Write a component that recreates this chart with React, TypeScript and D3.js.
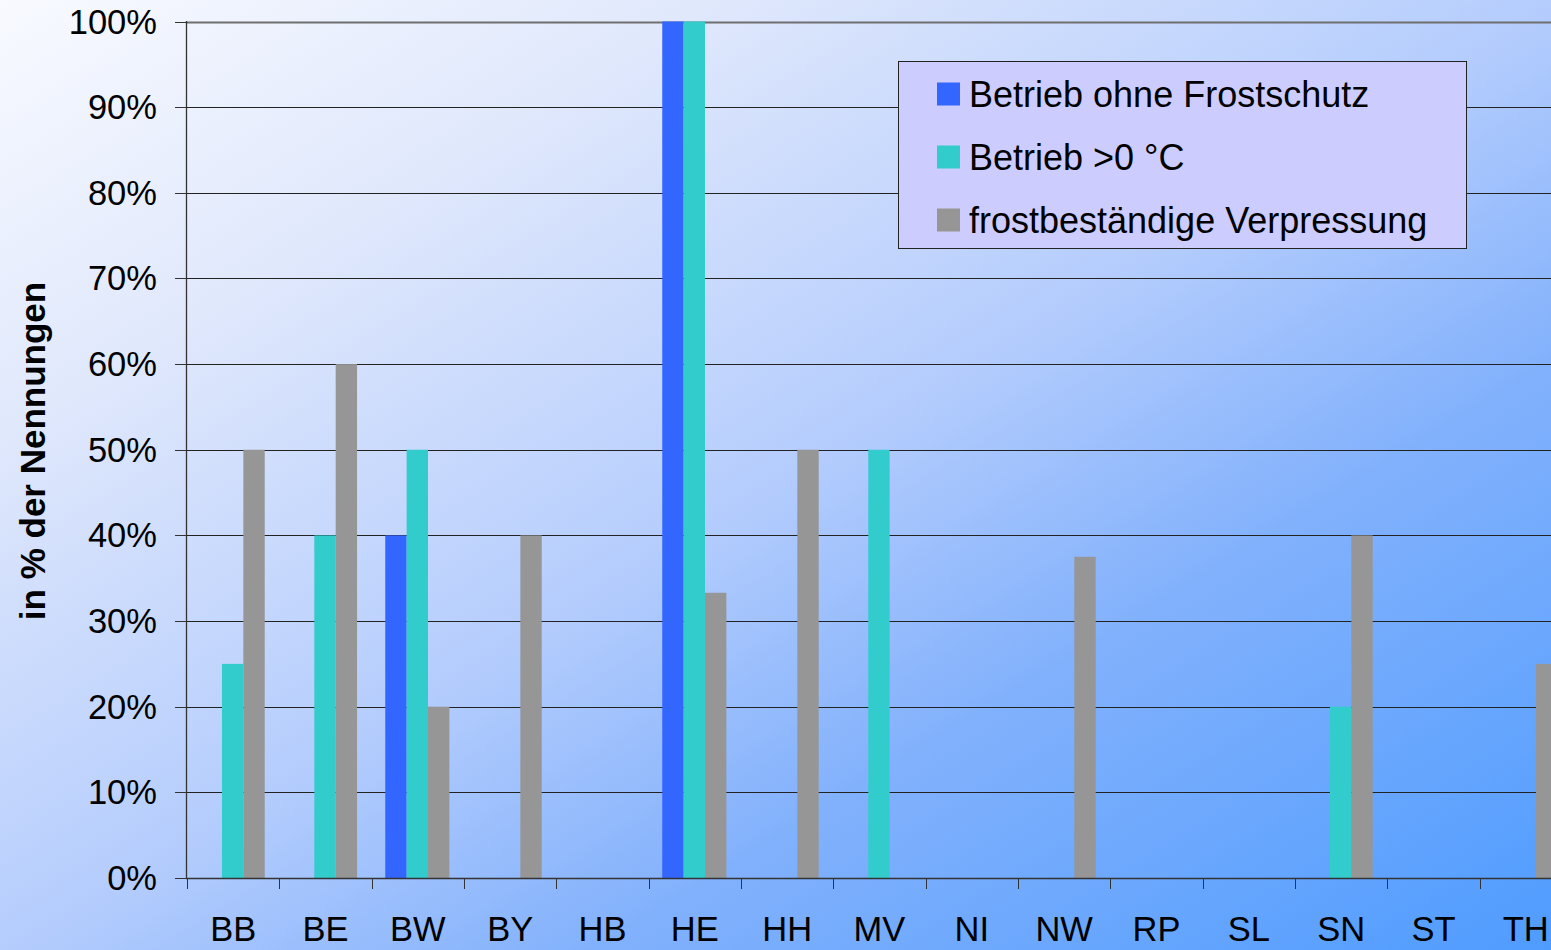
import React from "react";
import * as d3 from "d3";

const categories = ["BB", "BE", "BW", "BY", "HB", "HE", "HH", "MV", "NI", "NW", "RP", "SL", "SN", "ST", "TH"];
const seriesNames = ["Betrieb ohne Frostschutz", "Betrieb >0 °C", "frostbeständige Verpressung"];
const ohneFrostschutz = [0, 0, 0.4, 0, 0, 1, 0, 0, 0, 0, 0, 0, 0, 0, 0];
const betriebUeber0 = [0.25, 0.4, 0.5, 0, 0, 1, 0, 0.5, 0, 0, 0, 0, 0.2, 0, 0];
const verpressung = [0.5, 0.6, 0.2, 0.4, 0, 0.333, 0.5, 0, 0, 0.375, 0, 0, 0.4, 0, 0.25];
const yTicks = [0, 0.1, 0.2, 0.3, 0.4, 0.5, 0.6, 0.7, 0.8, 0.9, 1];
const colors = ["#3366ff", "#33cccc", "#969696"];

export default function App() {
  const W = 1551, H = 950;
  const series = [ohneFrostschutz, betriebUeber0, verpressung];
  const bandW = 92.33;
  const x0 = 187;
  const x = d3.scaleBand<string>().domain(categories).range([x0, x0 + bandW * categories.length]).padding(0);
  const inner = d3.scaleBand<number>().domain([0, 1, 2]).range([13.6, bandW - 14.6]).padding(0);
  const y = d3.scaleLinear().domain([0, 1]).range([878, 21.5]);
  const font = "'Liberation Sans', Arial, sans-serif";

  return (
    <svg width={W} height={H} style={{ position: "absolute", left: 0, top: 0, display: "block" }} fontFamily={font}>
      <defs>
        <linearGradient id="bg" x1="0" y1="0" x2="1" y2="1">
          <stop offset="0" stopColor="#f8faff" />
          <stop offset="0.23" stopColor="#e0e8fc" />
          <stop offset="0.5" stopColor="#b5cdfd" />
          <stop offset="0.69" stopColor="#82b1fc" />
          <stop offset="1" stopColor="#4f9cff" />
        </linearGradient>
      </defs>
      <rect x={0} y={0} width={W} height={H} fill="url(#bg)" />
      {yTicks.slice(1).map((t) => (
        <line key={t} x1={x0} x2={W} y1={Math.round(y(t)) + 0.5} y2={Math.round(y(t)) + 0.5}
          stroke={t === 1 ? "#6f6f6f" : "#222"} strokeWidth={t === 1 ? 2 : 1} />
      ))}
      {series.map((vals, si) =>
        vals.map((v, ci) =>
          v > 0 ? (
            <rect key={`${si}-${ci}`} x={(x(categories[ci]) as number) + (inner(si) as number)} y={y(v)}
              width={inner.bandwidth()} height={y(0) - y(v)} fill={colors[si]} />
          ) : null
        )
      )}
      <line x1={186.5} x2={186.5} y1={21} y2={879} stroke="#333" strokeWidth={1.3} />
      {yTicks.map((t) => (
        <g key={t}>
          <line x1={175} x2={187} y1={Math.round(y(t)) + 0.5} y2={Math.round(y(t)) + 0.5} stroke="#333" strokeWidth={1} />
          <text x={157} y={y(t) + 12} fontSize={34.5} textAnchor="end" fill="#000">{`${Math.round(t * 100)}%`}</text>
        </g>
      ))}
      <line x1={186} x2={W} y1={878.5} y2={878.5} stroke="#333" strokeWidth={1.3} />
      {categories.map((c) => (
        <g key={c}>
          <line x1={Math.round(x(c) as number) + 0.5} x2={Math.round(x(c) as number) + 0.5} y1={878} y2={889} stroke="#333" />
          <text x={(x(c) as number) + bandW / 2} y={941} fontSize={34.5} textAnchor="middle" fill="#000">{c}</text>
        </g>
      ))}
      <text transform="translate(45,451) rotate(-90)" fontSize={35} fontWeight="bold" textAnchor="middle" fill="#000">
        in % der Nennungen
      </text>
      <rect x={898.5} y={61.5} width={568} height={187} fill="#ccccff" stroke="#222" strokeWidth={1} />
      {seriesNames.map((n, i) => {
        const cy = 94 + i * 63;
        return (
          <g key={n}>
            <rect x={937} y={cy - 11.5} width={23} height={23} fill={colors[i]} />
            <text x={969} y={cy + 13} fontSize={36} fill="#000">{n}</text>
          </g>
        );
      })}
    </svg>
  );
}
